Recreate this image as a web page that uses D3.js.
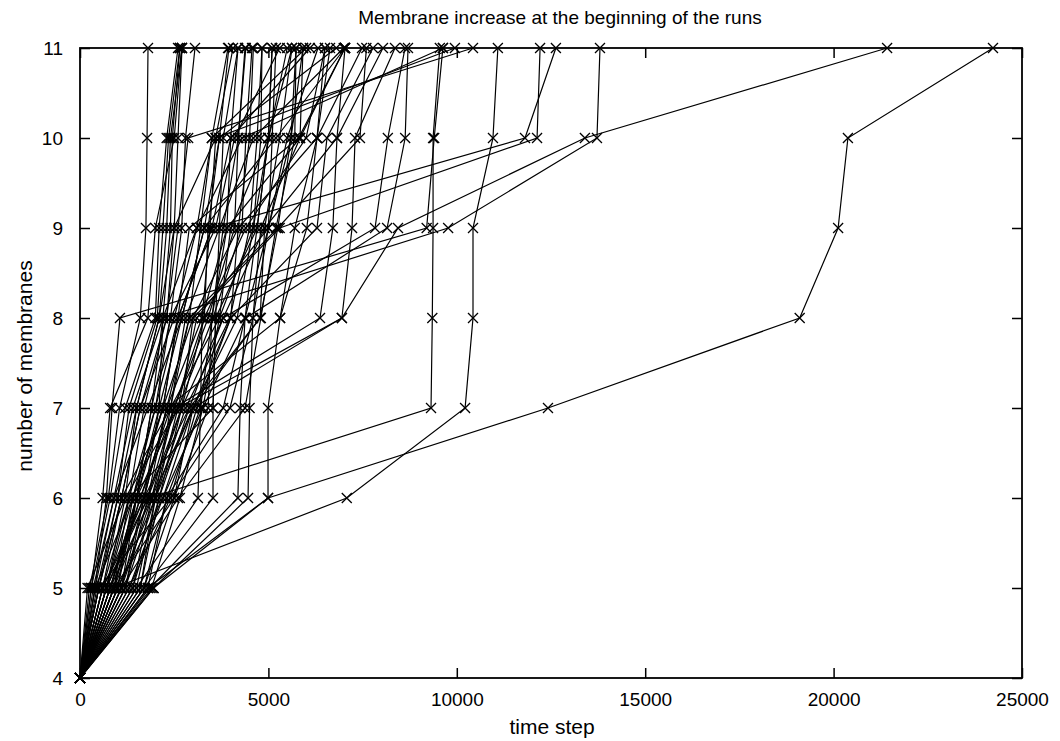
<!DOCTYPE html>
<html>
<head>
<meta charset="utf-8">
<script src="https://cdn.jsdelivr.net/npm/d3@7"></script>
<style>
  body { margin: 0; background: #fff; }
  svg { display: block; }
  text { font-family: "Liberation Sans", Arial, sans-serif; fill: #000; }
</style>
</head>
<body>
<div id="chart"></div>
<script>
// membrane counts reached by each run (start is always 4 at step 0)
var levels = [4, 5, 6, 7, 8, 9, 10, 11];
var xTicks = [0, 5000, 10000, 15000, 20000, 25000];
var yTicks = [4, 5, 6, 7, 8, 9, 10, 11];

// time step at which each run reached 5,6,7,8,9,10,11 membranes
var runs = [
    [1950, 4990, 12420, 19100, 20120, 20380, 24230],
    [900, 7080, 10220, 10430, 10430, 10960, 11090],
    [900, 1850, 9316, 9350, 9370, 9370, 9550],
    [1000, 1500, 1900, 2200, 9770, 13720, 13800],
    [800, 1500, 2600, 6950, 8440, 13400, 21420],
    [600, 1300, 2000, 2600, 3500, 11810, 12630],
    [700, 1400, 2200, 3000, 5300, 12130, 12210],
    [400, 700, 850, 1060, 9200, 9400, 9630],
    [250, 750, 1050, 1600, 1750, 1780, 1805],
    [500, 1100, 1600, 2300, 2600, 2870, 10430],
    [450, 1000, 1500, 2100, 2500, 3600, 9950],
    [350, 900, 1400, 2200, 3100, 4300, 9634],
    [1100, 1700, 2300, 5310, 6020, 6290, 7484],
    [900, 1600, 2500, 6370, 6710, 6820, 8041],
    [1200, 2000, 3000, 6950, 7220, 7300, 8360],
    [700, 1800, 2700, 3800, 7830, 8170, 8626],
    [1000, 2200, 3260, 4400, 8150, 8630, 8705],
    [800, 1900, 3000, 4000, 6290, 6555, 7776],
    [600, 1700, 2900, 4780, 5250, 7430, 7600],
    [1500, 3130, 3200, 3240, 3450, 3600, 4061],
    [1700, 3530, 3530, 3600, 4700, 5000, 5626],
    [1850, 4190, 4250, 4380, 5000, 5500, 6317],
    [1950, 4460, 4500, 4590, 4800, 5840, 7033],
    [1800, 4990, 4990, 5310, 5700, 6290, 6635],
    [300, 800, 1200, 2000, 2100, 2300, 2601],
    [500, 1000, 1300, 2050, 2200, 2350, 2650],
    [700, 1200, 1500, 2100, 2300, 2400, 2707],
    [900, 1300, 1700, 2300, 2500, 2600, 2707],
    [400, 1400, 2000, 2400, 2700, 2800, 3052],
    [600, 1100, 1600, 2500, 3100, 3500, 3928],
    [1100, 1500, 2100, 2700, 3300, 3700, 3950],
    [800, 1600, 2400, 2800, 3700, 3800, 4193],
    [1200, 1800, 2300, 3240, 3900, 4000, 4193],
    [1400, 1900, 2500, 3400, 4100, 4200, 4379],
    [200, 1200, 2600, 3530, 4300, 4400, 4565],
    [1600, 2100, 2700, 3000, 4200, 4500, 4600],
    [1000, 2000, 2800, 3980, 4500, 4700, 4830],
    [1300, 2200, 3000, 4170, 4600, 4800, 4830],
    [1700, 2300, 3800, 4380, 4700, 5000, 5096],
    [500, 2400, 3980, 4590, 5000, 5100, 5200],
    [900, 2500, 3000, 4780, 4900, 5300, 5626],
    [1500, 2000, 2600, 3100, 5000, 5600, 5733],
    [1100, 2600, 4380, 4800, 5200, 5700, 5733],
    [700, 1700, 2300, 2900, 5250, 5600, 5918],
    [1800, 2300, 3200, 3500, 3900, 5840, 5918],
    [600, 1800, 2500, 3300, 4400, 6000, 6502],
    [1300, 2400, 3100, 4000, 4200, 6290, 6502],
    [400, 900, 1800, 2700, 3300, 5200, 7033],
    [1400, 2100, 2900, 3800, 4900, 6820, 7033],
    [1000, 1400, 2200, 2600, 2900, 5800, 7033],
    [800, 1500, 1900, 2400, 3600, 4100, 5300],
    [1600, 2000, 2400, 2900, 3200, 3500, 6000],
    [300, 600, 800, 1800, 2000, 2500, 2700],
    [1200, 1700, 2100, 2200, 2400, 2450, 2650],
    [1700, 2500, 3400, 3500, 3800, 4200, 4400],
    [900, 1500, 2200, 2600, 3500, 4000, 6100],
    [500, 1100, 2400, 3700, 4000, 5000, 5100],
    [1900, 2650, 3260, 3700, 4600, 5000, 5500],
    [1100, 1900, 2700, 3300, 3400, 3700, 6800],
    [700, 1300, 3530, 3600, 3700, 4600, 7000]
];

var width = 1060;
var height = 741;
var padLeft = 80, padRight = 1022, padTop = 48, padBottom = 678;

var svg = d3.select("#chart")
    .append("svg")
    .attr("width", width)
    .attr("height", height);

var x = d3.scaleLinear().domain([0, 25000]).range([padLeft, padRight]);
var y = d3.scaleLinear().domain([4, 11]).range([padBottom, padTop]);

// turn a run into points, starting at (0,4)
function points(run) {
    var p = [[0, levels[0]]];
    for (var i = 0; i < run.length; i++) {
        p.push([run[i], levels[i + 1]]);
    }
    return p;
}

var line = d3.line()
    .x(function(d) { return x(d[0]); })
    .y(function(d) { return y(d[1]); });

var g = svg.append("g");

runs.forEach(function(run) {
    var p = points(run);
    g.append("path")
        .attr("d", line(p))
        .attr("fill", "none")
        .attr("stroke", "#000")
        .attr("stroke-width", 1.2);

    // gnuplot style x markers
    g.selectAll(null)
        .data(p)
        .enter()
        .append("path")
        .attr("d", function(d) {
            var cx = x(d[0]), cy = y(d[1]), s = 5;
            return "M" + (cx - s) + "," + (cy - s) + "L" + (cx + s) + "," + (cy + s) +
                "M" + (cx - s) + "," + (cy + s) + "L" + (cx + s) + "," + (cy - s);
        })
        .attr("stroke", "#000")
        .attr("stroke-width", 1.3);
});

// axes, ticks pointing inward
svg.append("g")
    .attr("transform", "translate(0," + padBottom + ")")
    .call(d3.axisBottom(x).tickValues(xTicks).tickFormat(d3.format("d"))
        .tickSizeInner(-10).tickSizeOuter(0).tickPadding(15));

svg.append("g")
    .attr("transform", "translate(0," + padTop + ")")
    .call(d3.axisTop(x).tickValues(xTicks).tickSizeInner(-10).tickSizeOuter(0).tickFormat(""));

svg.append("g")
    .attr("transform", "translate(" + padLeft + ",0)")
    .call(d3.axisLeft(y).tickValues(yTicks).tickFormat(d3.format("d"))
        .tickSizeInner(-10).tickSizeOuter(0).tickPadding(17));

svg.append("g")
    .attr("transform", "translate(" + padRight + ",0)")
    .call(d3.axisRight(y).tickValues(yTicks).tickSizeInner(-10).tickSizeOuter(0).tickFormat(""));

svg.selectAll(".domain").remove();
svg.selectAll(".tick line").attr("stroke", "#000").attr("stroke-width", 1.5);
svg.selectAll(".tick text")
    .attr("font-family", "Liberation Sans, Arial, sans-serif")
    .attr("font-size", 19)
    .attr("fill", "#000");

// plot border
svg.append("rect")
    .attr("x", padLeft)
    .attr("y", padTop)
    .attr("width", padRight - padLeft)
    .attr("height", padBottom - padTop)
    .attr("fill", "none")
    .attr("stroke", "#000")
    .attr("stroke-width", 1.8);

svg.append("text")
    .text("Membrane increase at the beginning of the runs")
    .attr("x", 560)
    .attr("y", 24)
    .attr("text-anchor", "middle")
    .attr("font-size", 19);

svg.append("text")
    .text("time step")
    .attr("x", 552)
    .attr("y", 734)
    .attr("text-anchor", "middle")
    .attr("font-size", 21);

svg.append("text")
    .text("number of membranes")
    .attr("transform", "translate(32,366) rotate(-90)")
    .attr("text-anchor", "middle")
    .attr("font-size", 21);
</script>
</body>
</html>
